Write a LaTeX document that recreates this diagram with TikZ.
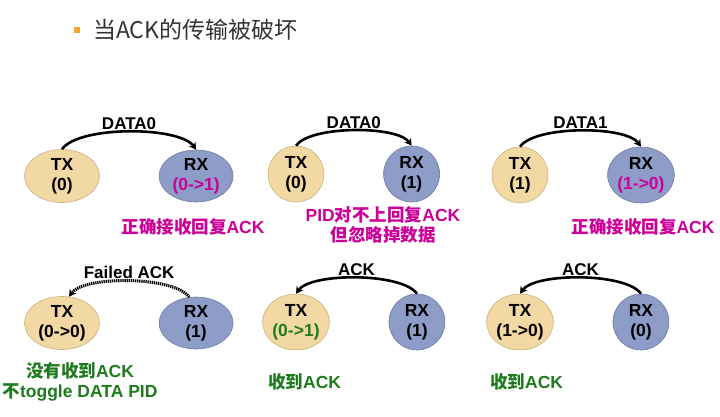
\documentclass[tikz,border=0pt]{standalone}
\usepackage{fontspec}
\setmainfont{Liberation Sans}
\newfontfamily\cjk{Noto Sans CJK SC}
\usetikzlibrary{shapes.geometric, arrows.meta, positioning}
\definecolor{usbTan}{HTML}{F2D8A2}
\definecolor{usbTanLine}{HTML}{C9B07E}
\definecolor{usbBlue}{HTML}{8E9CC8}
\definecolor{usbBlueLine}{HTML}{6F7BA3}
\definecolor{usbMagenta}{HTML}{CC0099}
\definecolor{usbGreen}{HTML}{1E7B1E}
\definecolor{usbOrange}{HTML}{F5A623}
\definecolor{usbTitle}{HTML}{333333}

\begin{document}
\begin{tikzpicture}[x=1pt, y=1pt,
  node distance=59pt,
  dev/.style={ellipse, line width=0.6pt, inner sep=0pt, align=center,
              font=\bfseries\fontsize{17.5}{20}\selectfont},
  txoval/.style={dev, fill=usbTan, draw=usbTanLine, minimum width=75pt, minimum height=53pt},
  rxoval/.style={dev, fill=usbBlue, draw=usbBlueLine, minimum width=74pt, minimum height=52pt},
  txball/.style={dev, fill=usbTan, draw=usbTanLine, minimum width=56pt, minimum height=56pt},
  rxball/.style={dev, fill=usbBlue, draw=usbBlueLine, minimum width=56pt, minimum height=56pt},
  link/.style={-{Stealth[length=7pt, width=8pt]}, line width=2.6pt, looseness=0.55},
  lost/.style={link, line width=3pt, dash pattern=on 1.3pt off 0.8pt},
  lbl/.style={above, inner sep=1pt, font=\bfseries\fontsize{17}{20}\selectfont},
  note/.style={align=center, inner sep=0pt, font=\bfseries\fontsize{17.5}{20}\selectfont}
]
\useasboundingbox (0,0) rectangle (720,-417);

% title
\node[anchor=west, inner sep=0pt, text=usbTitle, font=\cjk\fontsize{23}{26}\selectfont]
  (title) at (93,-30) {当ACK的传输被破坏};
\node[fill=usbOrange, inner sep=0pt, minimum size=6pt, left=13pt of title] (bullet) {};

% top row: data packets
\node[txoval] (tx1) at (62,-176) {TX\\(0)};
\node[rxoval, right=of tx1] (rx1) {RX\\\textcolor{usbMagenta}{(0->1)}};
\node[txball] (tx2) at (296,-174) {TX\\(0)};
\node[rxball, right=of tx2] (rx2) {RX\\(1)};
\node[txball] (tx3) at (520,-175) {TX\\(1)};
\node[rxball, right=of tx3] (rx3) {RX\\\textcolor{usbMagenta}{(1->0)}};

\draw[link] (tx1.north) to[out=55, in=125] node[lbl] {DATA0} (rx1.north);
\draw[link] (tx2.north) to[out=55, in=125] node[lbl] {DATA0} (rx2.north);
\draw[link] (tx3.north) to[out=55, in=125] node[lbl] {DATA1} (rx3.north);

\node[note, text=usbMagenta] (note1) at (193,-227) {{\cjk 正确接收回复}ACK};
\node[note, text=usbMagenta] (note2) at (383,-225) {PID{\cjk 对不上回复}ACK\\{\cjk 但忽略掉数据}};
\node[note, text=usbMagenta] (note3) at (643,-227) {{\cjk 正确接收回复}ACK};

% bottom row: handshakes
\node[txoval] (tx4) at (62,-323) {TX\\(0->0)};
\node[rxoval, right=of tx4] (rx4) {RX\\(1)};
\node[txball] (tx5) at (296,-322) {TX\\\textcolor{usbGreen}{(0->1)}};
\node[rxball, right=of tx5] (rx5) {RX\\(1)};
\node[txball] (tx6) at (520,-322) {TX\\(1->0)};
\node[rxball, right=of tx6] (rx6) {RX\\(0)};

\draw[lost] (rx4.105) to[out=125, in=55] node[lbl] {Failed ACK} (tx4.75);
\draw[link] (rx5.north) to[out=125, in=55] node[lbl] {ACK} (tx5.north);
\draw[link] (rx6.north) to[out=125, in=55] node[lbl] {ACK} (tx6.north);

\node[note, text=usbGreen] (note4) at (80,-382) {{\cjk 没有收到}ACK\\{\cjk 不}toggle DATA PID};
\node[note, text=usbGreen, anchor=west] (note5) at (268,-382) {{\cjk 收到}ACK};
\node[note, text=usbGreen, anchor=west] (note6) at (490,-382) {{\cjk 收到}ACK};
\end{tikzpicture}
\end{document}
